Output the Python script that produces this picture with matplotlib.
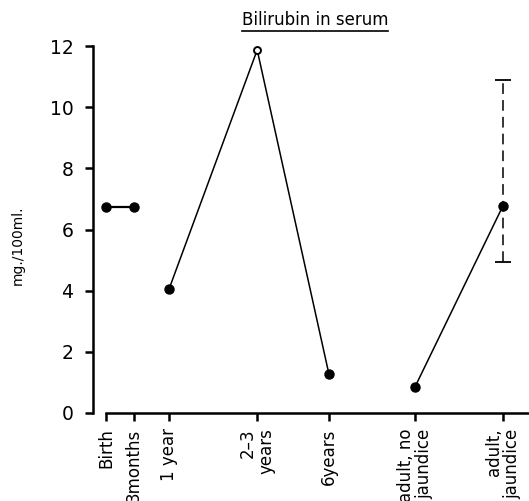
import matplotlib
matplotlib.use("Agg")
import matplotlib.pyplot as plt
from matplotlib.lines import Line2D

# categories along the x axis (uneven spacing as in the original)
labels = ["Birth", "3months", "1 year", "2\u20133\nyears", "6years",
          "adult, no\njaundice", "adult,\njaundice"]
x_pos = [0, 1, 2.25, 5.4, 7.96, 11.04, 14.18]

# bilirubin values, mg./100ml.
birth_vals = [6.75, 6.75]
child_vals = [4.05, 11.87, 1.28]
adult_vals = [0.86, 6.78]
jaundice_low = 4.95
jaundice_high = 10.9

plt.rcParams['font.family'] = ['DejaVu Sans']

fig = plt.figure(figsize=(5.29, 5.01), dpi=100)
ax = fig.add_axes([93 / 529, 1 - 413 / 501, 1 - 93 / 529, (413 - 46) / 501])

# segments
ax.plot(x_pos[0:2], birth_vals, color="black", lw=1.6, marker="o", ms=6.5)
ax.plot(x_pos[2:5], child_vals, color="black", lw=1.1)
ax.plot([x_pos[2], x_pos[4]], [child_vals[0], child_vals[2]], "o",
        color="black", ms=6.5)
ax.plot([x_pos[3]], [child_vals[1]], "o", mfc="white", mec="black",
        mew=1.4, ms=5)
ax.plot(x_pos[5:7], adult_vals, color="black", lw=1.1, marker="o", ms=6.5)

# range for adult with jaundice
eb = ax.errorbar([x_pos[6]], [adult_vals[1]],
                 yerr=[[adult_vals[1] - jaundice_low], [jaundice_high - adult_vals[1]]],
                 fmt="none", ecolor="black", elinewidth=1.1, capsize=6, capthick=1.3)
eb[2][0].set_linestyle((0, (7, 4)))

ax.set_xlim(-13 / 28, (529 - 106) / 28)
ax.set_ylim(0, 12)

for s in ["top", "right"]:
    ax.spines[s].set_visible(False)
ax.spines["left"].set_linewidth(1.8)
ax.spines["bottom"].set_linewidth(1.8)
ax.spines["bottom"].set_bounds(0, (529 - 106) / 28)

ax.set_yticks([0, 2, 4, 6, 8, 10, 12])
ax.set_yticklabels(["0", "2", "4", "6", "8", "10", "12"], fontsize=13.5)
ax.set_xticks(x_pos)
ax.set_xticklabels(labels, rotation=90, fontsize=12, ha="center", va="top",
                   multialignment="right", linespacing=1.05)
ax.tick_params(axis="both", direction="out", length=6, width=1.8, color="black")
ax.tick_params(axis="y", pad=8)
ax.tick_params(axis="x", pad=5)

fig.text(18 / 529, 1 - 245 / 501, "mg./100ml.", rotation=90, fontsize=10,
         ha="center", va="center")

title = fig.text(315 / 529, 1 - 20 / 501, "Bilirubin in serum", fontsize=12,
                 ha="center", va="center")
fig.canvas.draw()
bb = title.get_window_extent().transformed(fig.transFigure.inverted())
fig.add_artist(Line2D([bb.x0, bb.x1], [bb.y0 - 0.004, bb.y0 - 0.004],
                      transform=fig.transFigure, color="black", lw=1.2))

fig.savefig("out.png", dpi=100)
